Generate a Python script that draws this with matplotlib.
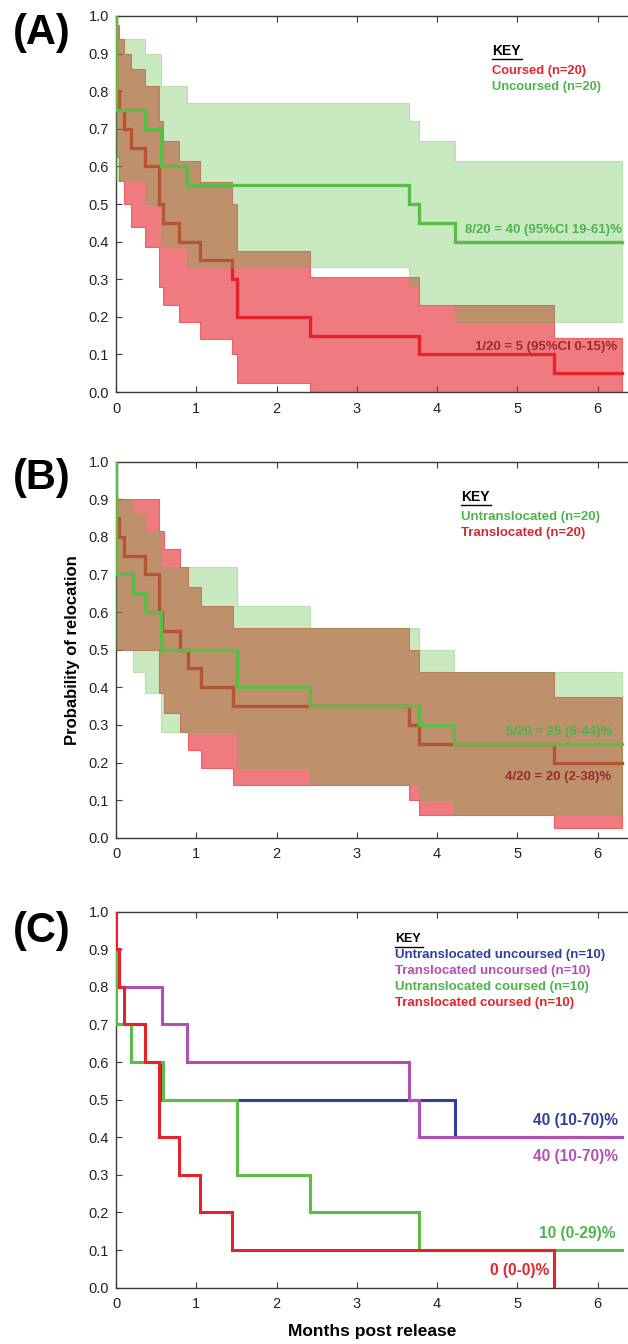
"""Kaplan-Meier style relocation curves, three stacked panels."""

import matplotlib

matplotlib.use("Agg")
import matplotlib.pyplot as plt

plt.rcParams["font.family"] = ["Liberation Sans", "DejaVu Sans"]

T_END = 6.3

# ---- Panel A: coursed vs uncoursed -------------------------------------
a_red_t = [0, 0.03, 0.10, 0.19, 0.36, 0.53, 0.585, 0.78, 1.05, 1.44, 1.51, 2.41, 3.78, 5.46]
a_red_s = [0.80, 0.75, 0.70, 0.65, 0.60, 0.50, 0.45, 0.40, 0.35, 0.30, 0.20, 0.15, 0.10, 0.05]
a_red_up = [0.975, 0.94, 0.90, 0.86, 0.815, 0.72, 0.668, 0.615, 0.559, 0.50, 0.375, 0.306, 0.231, 0.145]
a_red_lo = [0.625, 0.56, 0.50, 0.44, 0.385, 0.28, 0.232, 0.185, 0.141, 0.10, 0.025, 0.0, 0.0, 0.0]

a_grn_t = [0, 0.36, 0.56, 0.88, 3.65, 3.78, 4.22]
a_grn_s = [0.75, 0.70, 0.60, 0.55, 0.50, 0.45, 0.40]
a_grn_up = [0.94, 0.90, 0.815, 0.768, 0.72, 0.668, 0.615]
a_grn_lo = [0.56, 0.50, 0.385, 0.332, 0.28, 0.232, 0.185]

# ---- Panel B: untranslocated vs translocated ----------------------------
b_grn_t = [0, 0.21, 0.36, 0.56, 1.51, 2.41, 3.77, 4.21]
b_grn_s = [0.70, 0.65, 0.60, 0.50, 0.40, 0.35, 0.30, 0.25]
b_grn_up = [0.90, 0.86, 0.815, 0.72, 0.615, 0.559, 0.50, 0.44]
b_grn_lo = [0.50, 0.44, 0.385, 0.28, 0.185, 0.141, 0.10, 0.06]

b_red_t = [0, 0.03, 0.10, 0.36, 0.53, 0.57, 0.79, 0.89, 1.06, 1.45, 3.65, 3.77, 5.46]
b_red_s = [0.85, 0.80, 0.75, 0.70, 0.60, 0.55, 0.50, 0.45, 0.40, 0.35, 0.30, 0.25, 0.20]
b_red_band_t = [0, 0.53, 0.60, 0.79, 0.89, 1.06, 1.45, 3.65, 3.77, 5.46]
b_red_up = [0.90, 0.815, 0.768, 0.72, 0.668, 0.615, 0.559, 0.50, 0.44, 0.375]
b_red_lo = [0.50, 0.385, 0.332, 0.28, 0.232, 0.185, 0.141, 0.10, 0.06, 0.025]

# ---- Panel C: four groups ----------------------------------------------
c_blue_t = [0, 0.36, 0.56, 4.22]
c_blue_s = [0.70, 0.60, 0.50, 0.40]
c_purp_t = [0, 0.565, 0.88, 3.65, 3.78]
c_purp_s = [0.80, 0.70, 0.60, 0.50, 0.40]
c_grn_t = [0, 0.19, 0.585, 1.51, 2.41, 3.78]
c_grn_s = [0.70, 0.60, 0.50, 0.30, 0.20, 0.10]
c_red_t = [0, 0.03, 0.10, 0.36, 0.53, 0.78, 1.05, 1.44, 5.46]
c_red_s = [0.90, 0.80, 0.70, 0.60, 0.40, 0.30, 0.20, 0.10, 0.0]

RED = "#e5232b"
GREEN = "#5bbd45"
DARKRED = "#9e2a2b"
TXTGREEN = "#4cb44a"
BLUE = "#2f3f9c"
PURPLE = "#b24fb3"


def km_line(ax, t, s, color, lw=2.4, extend=True, zorder=3):
    x = [0] + list(t)
    y = [1.0] + list(s)
    if extend:
        x.append(T_END)
        y.append(s[-1])
    ax.plot(x, y, drawstyle="steps-post", color=color, lw=lw, zorder=zorder,
            solid_joinstyle="miter")


def km_band(ax, t, lo, up, color, alpha, zorder=2):
    x = list(t) + [T_END]
    ax.fill_between(x, list(lo) + [lo[-1]], list(up) + [up[-1]], step="post",
                    facecolor=color, alpha=alpha, edgecolor=color, lw=0.8,
                    zorder=zorder)


def style_axes(ax):
    ax.set_xlim(0, 6.38)
    ax.set_ylim(0, 1.0)
    ax.set_xticks(range(7))
    ax.set_yticks([i / 10 for i in range(11)])
    ax.set_yticklabels([f"{i / 10:.1f}" for i in range(11)])
    ax.spines["right"].set_visible(False)
    for sp in ("left", "bottom", "top"):
        ax.spines[sp].set_color("#3a3a3a")
        ax.spines[sp].set_linewidth(1.0)
    ax.tick_params(direction="in", top=True, length=4, color="#3a3a3a",
                   labelsize=10.5, labelcolor="#222222")
    ax.tick_params(axis="x", pad=7)
    ax.tick_params(axis="y", pad=5)


def key(ax, x, y_key, ys, lines, size=9.3, key_size=10, ul_width=0.37):
    ax.text(x, y_key, "KEY", fontsize=key_size, fontweight="bold",
            color="black", va="center", ha="left")
    ax.plot([x, x + ul_width], [y_key - 0.021, y_key - 0.021], color="black",
            lw=1.0, clip_on=False)
    for y, (txt, col) in zip(ys, lines):
        ax.text(x, y, txt, fontsize=size, fontweight="bold", color=col,
                va="center", ha="left")


fig = plt.figure(figsize=(6.28, 13.44), dpi=100)
left, width, height = 0.185, 0.815, 0.2798

# Panel A
ax_a = fig.add_axes([left, 0.7083, width, height])
km_band(ax_a, a_red_t, a_red_lo, a_red_up, RED, 0.6)
km_line(ax_a, a_red_t, a_red_s, RED)
km_band(ax_a, a_grn_t, a_grn_lo, a_grn_up, GREEN, 0.33, zorder=4)
km_line(ax_a, a_grn_t, a_grn_s, GREEN, zorder=5)
style_axes(ax_a)
key(ax_a, 4.69, 0.906, [0.854, 0.811],
    [("Coursed (n=20)", RED), ("Uncoursed (n=20)", TXTGREEN)])
ax_a.text(6.3, 0.432, "8/20 = 40 (95%CI 19-61)%", color=TXTGREEN, fontsize=9.5,
          fontweight="bold", ha="right", va="center", zorder=6)
ax_a.text(6.24, 0.121, "1/20 = 5 (95%CI 0-15)%", color=DARKRED, fontsize=9.5,
          fontweight="bold", ha="right", va="center", zorder=6)

# Panel B
ax_b = fig.add_axes([left, 0.3767, width, height])
km_band(ax_b, b_red_band_t, b_red_lo, b_red_up, RED, 0.6)
km_line(ax_b, b_red_t, b_red_s, RED)
km_band(ax_b, b_grn_t, b_grn_lo, b_grn_up, GREEN, 0.33, zorder=4)
km_line(ax_b, b_grn_t, b_grn_s, GREEN, zorder=5)
style_axes(ax_b)
key(ax_b, 4.30, 0.907, [0.853, 0.810],
    [("Untranslocated (n=20)", TXTGREEN), ("Translocated (n=20)", "#d42a2f")],
    size=9.5)
ax_b.text(6.19, 0.281, "5/20 = 25 (6-44)%", color=TXTGREEN, fontsize=9.5,
          fontweight="bold", ha="right", va="center", zorder=6)
ax_b.text(6.17, 0.161, "4/20 = 20 (2-38)%", color=DARKRED, fontsize=9.5,
          fontweight="bold", ha="right", va="center", zorder=6)
ax_b.set_ylabel("Probability of relocation", fontsize=12, fontweight="bold",
                labelpad=6)

# Panel C
ax_c = fig.add_axes([left, 0.0419, width, height])
km_line(ax_c, c_blue_t, c_blue_s, BLUE, lw=2.2, zorder=2)
km_line(ax_c, c_purp_t, c_purp_s, PURPLE, lw=2.2, zorder=3)
km_line(ax_c, c_grn_t, c_grn_s, GREEN, lw=2.2, zorder=4)
km_line(ax_c, c_red_t, c_red_s, RED, lw=2.2, extend=False, zorder=5)
style_axes(ax_c)
key(ax_c, 3.48, 0.926, [0.886, 0.842, 0.800, 0.757], [
    ("Untranslocated uncoursed (n=10)", BLUE),
    ("Translocated uncoursed (n=10)", PURPLE),
    ("Untranslocated coursed (n=10)", TXTGREEN),
    ("Translocated coursed (n=10)", RED),
], size=9.5, key_size=9, ul_width=0.34)
ax_c.text(6.25, 0.445, "40 (10-70)%", color=BLUE, fontsize=11.2,
          fontweight="bold", ha="right", va="center")
ax_c.text(6.25, 0.35, "40 (10-70)%", color=PURPLE, fontsize=11.2,
          fontweight="bold", ha="right", va="center")
ax_c.text(6.22, 0.144, "10 (0-29)%", color=TXTGREEN, fontsize=11.2,
          fontweight="bold", ha="right", va="center")
ax_c.text(5.40, 0.047, "0 (0-0)%", color=RED, fontsize=11.2,
          fontweight="bold", ha="right", va="center")
ax_c.set_xlabel("Months post release", fontsize=12.5, fontweight="bold",
                labelpad=9)

# panel letters
for lab, ypix in (("(A)", 33), ("(B)", 478), ("(C)", 931)):
    fig.text(42 / 628, 1 - ypix / 1344, lab, fontsize=30, fontweight="bold",
             ha="center", va="center")

fig.savefig("out.png", dpi=100)
